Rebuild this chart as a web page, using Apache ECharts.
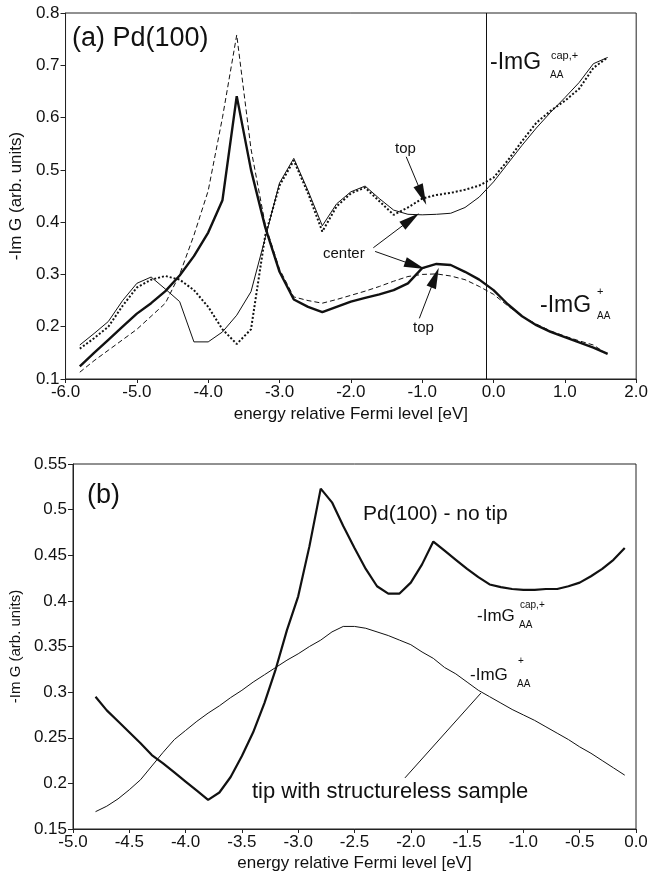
<!DOCTYPE html>
<html>
<head>
<meta charset="utf-8">
<script src="https://cdn.jsdelivr.net/npm/echarts@6/dist/echarts.min.js"></script>
<style>
html,body{margin:0;padding:0;background:#fff;}
#c{width:651px;height:880px;}
</style>
</head>
<body>
<div id="c"></div>
<script>
// ---- Panel (a) data ----
const aX = [-5.8,-5.6,-5.4,-5.2,-5.0,-4.8,-4.6,-4.4,-4.2,-4.0,-3.8,-3.6,-3.4,-3.2,-3.0,-2.8,-2.6,-2.4,-2.2,-2.0,-1.8,-1.6,-1.4,-1.2,-1.0,-0.8,-0.6,-0.4,-0.2,0.0,0.2,0.4,0.6,0.8,1.0,1.2,1.4,1.6];
const aCapCenter = [0.165,0.187,0.21,0.25,0.283,0.295,0.272,0.248,0.171,0.171,0.19,0.222,0.267,0.37,0.475,0.522,0.46,0.393,0.435,0.458,0.469,0.445,0.423,0.415,0.414,0.415,0.417,0.428,0.448,0.477,0.512,0.547,0.58,0.61,0.638,0.667,0.703,0.715];
const aCapTop = [0.158,0.178,0.2,0.24,0.275,0.29,0.297,0.29,0.27,0.238,0.195,0.167,0.195,0.375,0.47,0.518,0.455,0.382,0.43,0.455,0.466,0.44,0.414,0.428,0.445,0.452,0.456,0.462,0.47,0.485,0.518,0.555,0.59,0.613,0.632,0.655,0.695,0.715];
const aPlusCenter = [0.124,0.15,0.175,0.2,0.225,0.245,0.268,0.298,0.335,0.38,0.442,0.641,0.5,0.39,0.305,0.252,0.238,0.228,0.238,0.248,0.255,0.262,0.27,0.283,0.312,0.32,0.318,0.305,0.29,0.27,0.243,0.22,0.203,0.19,0.18,0.17,0.16,0.148];
const aPlusTop = [0.113,0.135,0.155,0.175,0.195,0.22,0.245,0.3,0.375,0.46,0.6,0.758,0.54,0.395,0.31,0.257,0.25,0.245,0.252,0.26,0.268,0.277,0.287,0.296,0.3,0.301,0.297,0.29,0.277,0.262,0.24,0.22,0.205,0.192,0.182,0.173,0.165,0.147];
const aFermiLine = -0.1;
// annotation arrows (data coords): [x1,y1,x2,y2]
const aArrows = [
  [-1.224,0.525,-1.0,0.452],
  [-1.685,0.351,-1.16,0.405],
  [-1.66,0.344,-1.1,0.317],
  [-1.04,0.216,-0.82,0.294]
];
// ---- Panel (b) data ----
const bX = [-4.8,-4.7,-4.6,-4.5,-4.4,-4.3,-4.2,-4.1,-4.0,-3.9,-3.8,-3.7,-3.6,-3.5,-3.4,-3.3,-3.2,-3.1,-3.0,-2.9,-2.8,-2.7,-2.6,-2.5,-2.4,-2.3,-2.2,-2.1,-2.0,-1.9,-1.8,-1.7,-1.6,-1.5,-1.4,-1.3,-1.2,-1.1,-1.0,-0.9,-0.8,-0.7,-0.6,-0.5,-0.4,-0.3,-0.2,-0.1];
const bCap = [0.295,0.28,0.268,0.256,0.244,0.231,0.222,0.212,0.202,0.192,0.182,0.19,0.207,0.23,0.256,0.288,0.325,0.368,0.405,0.46,0.523,0.508,0.482,0.458,0.435,0.416,0.408,0.408,0.42,0.44,0.465,0.455,0.445,0.435,0.426,0.418,0.415,0.413,0.412,0.412,0.413,0.413,0.416,0.42,0.427,0.435,0.445,0.458];
const bPlus = [0.169,0.175,0.183,0.193,0.204,0.219,0.234,0.248,0.258,0.268,0.277,0.285,0.294,0.302,0.311,0.319,0.327,0.335,0.342,0.35,0.357,0.366,0.372,0.372,0.37,0.366,0.362,0.357,0.352,0.344,0.337,0.327,0.32,0.311,0.302,0.295,0.288,0.281,0.275,0.269,0.262,0.255,0.248,0.24,0.233,0.225,0.217,0.209];
const bPointer = [-2.052,0.206,-1.377,0.299];

const FONT = 'Liberation Sans';
const pair = (xs, ys) => xs.map((x, i) => [x, ys[i]]);

function xAxisCfg(gi, min, max, interval, gap) {
  return {
    type: 'value', gridIndex: gi, min: min, max: max, interval: interval,
    name: 'energy relative Fermi level [eV]', nameLocation: 'middle', nameGap: gap,
    nameTextStyle: {fontFamily: FONT, fontSize: 17, color: '#111'},
    axisLine: {show: true, onZero: false, lineStyle: {color: '#222', width: 1}},
    axisTick: {show: true, inside: false, length: 4, lineStyle: {color: '#222'}},
    axisLabel: {fontFamily: FONT, fontSize: 17, color: '#111', margin: 5,
      formatter: v => v.toFixed(1)},
    splitLine: {show: false}
  };
}
function yAxisCfg(gi, min, max, interval, gap, nameSize) {
  return {
    type: 'value', gridIndex: gi, min: min, max: max, interval: interval,
    name: '-Im G (arb. units)', nameLocation: 'middle', nameGap: gap,
    nameTextStyle: {fontFamily: FONT, fontSize: nameSize, color: '#111'},
    axisLine: {show: true, onZero: false, lineStyle: {color: '#222', width: 1}},
    axisTick: {show: true, inside: false, length: 5, lineStyle: {color: '#222'}},
    axisLabel: {fontFamily: FONT, fontSize: 17, color: '#111', margin: 6,
      formatter: v => String(parseFloat(v.toFixed(2)))},
    splitLine: {show: false}
  };
}
function lineSeries(xi, data, width, type) {
  return {
    type: 'line', xAxisIndex: xi, yAxisIndex: xi, data: data,
    symbol: 'none', smooth: false, animation: false,
    lineStyle: {color: '#111', width: width, type: type}
  };
}
const arrowMark = aArrows.map(a => [
  {coord: [a[0], a[1]], symbol: 'none'},
  {coord: [a[2], a[3]], symbol: 'triangle', symbolSize: [10, 21]}
]);

const chart = echarts.init(document.getElementById('c'), null, {renderer: 'canvas'});

const txt = (text, left, top, size) => ({
  type: 'text', left: left, top: top,
  style: {text: text, fontFamily: FONT, fontSize: size, fill: '#111'}
});

const option = {
  backgroundColor: '#fff',
  animation: false,
  grid: [
    {left: 63, top: 13, width: 576, height: 366, show: true, borderColor: '#222', borderWidth: 1, backgroundColor: 'transparent'},
    {left: 73, top: 464, width: 563, height: 365, show: true, borderColor: '#222', borderWidth: 1, backgroundColor: 'transparent'}
  ],
  xAxis: [xAxisCfg(0, -6, 2, 1, 27), xAxisCfg(1, -5, 0, 0.5, 26)],
  yAxis: [yAxisCfg(0, 0.1, 0.8, 0.1, 38, 17), yAxisCfg(1, 0.15, 0.55, 0.05, 49, 15)],
  series: [
    Object.assign(lineSeries(0, pair(aX, aCapCenter), 1, 'solid'), {
      markLine: {
        silent: true, animation: false, symbol: ['none', 'none'],
        label: {show: false},
        lineStyle: {color: '#111', width: 1, type: 'solid'},
        data: [{xAxis: aFermiLine}]
      }
    }),
    lineSeries(0, pair(aX, aCapTop), 2, [2, 2]),
    Object.assign(lineSeries(0, pair(aX, aPlusCenter), 2.4, 'solid'), {
      markLine: {
        silent: true, animation: false,
        label: {show: false},
        lineStyle: {color: '#111', width: 1, type: 'solid'},
        data: arrowMark
      }
    }),
    lineSeries(0, pair(aX, aPlusTop), 1, [5, 3]),
    Object.assign(lineSeries(1, pair(bX, bCap), 2.2, 'solid'), {
      markLine: {
        silent: true, animation: false, symbol: ['none', 'none'],
        label: {show: false},
        lineStyle: {color: '#111', width: 1, type: 'solid'},
        data: [[{coord: [bPointer[0], bPointer[1]]}, {coord: [bPointer[2], bPointer[3]]}]]
      }
    }),
    lineSeries(1, pair(bX, bPlus), 1, 'solid')
  ],
  graphic: [
    txt('(a) Pd(100)', 72, 25, 27),
    txt('-ImG', 490, 51, 23),
    txt('cap,+', 551, 50, 11),
    txt('AA', 550, 70, 10),
    txt('-ImG', 540, 294, 23),
    txt('+', 597, 286, 11),
    txt('AA', 597, 311, 10),
    txt('top', 395, 141, 15),
    txt('center', 323, 246, 15),
    txt('top', 413, 320, 15),
    txt('(b)', 87, 482, 27),
    txt('Pd(100) - no tip', 363, 504, 21),
    txt('-ImG', 477, 608, 17),
    txt('cap,+', 520, 600, 10),
    txt('AA', 519, 620, 10),
    txt('-ImG', 470, 667, 17),
    txt('+', 518, 656, 10),
    txt('AA', 517, 679, 10),
    txt('tip with structureless sample', 252, 781, 22)
  ]
};
chart.setOption(option);
</script>
</body>
</html>
